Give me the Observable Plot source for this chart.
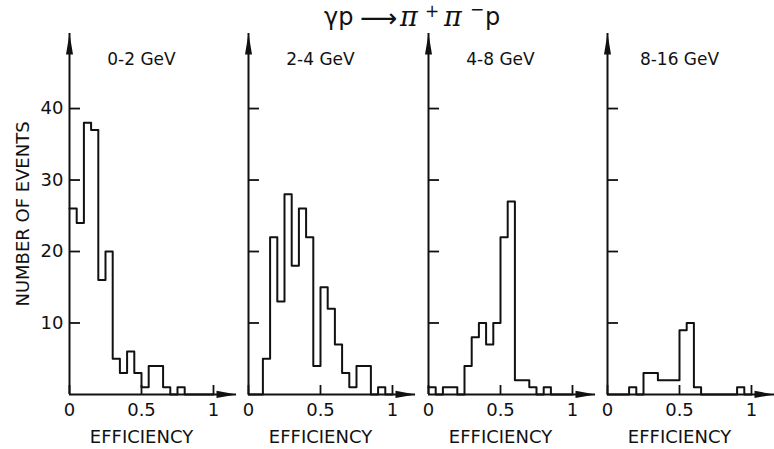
<!DOCTYPE html>
<html><head><meta charset="utf-8">
<script src="https://cdn.jsdelivr.net/npm/d3@7"></script>
<script src="https://cdn.jsdelivr.net/npm/@observablehq/plot@0.6"></script>
<style>
html,body{margin:0;padding:0;background:#fff;}
#wrap{position:relative;width:774px;height:449px;overflow:hidden;font-family:"DejaVu Sans",sans-serif;color:#111;background:#fff;}
#wrap svg{position:absolute;top:0;overflow:visible;background:transparent !important;}
#title span{position:absolute;white-space:nowrap;line-height:1;font-size:24px;}
#title .pi{font-family:"DejaVu Serif",serif;font-style:italic;font-size:27px;}
#title .sup{font-size:17px;}
</style></head><body>
<div id="wrap"><div id="title">
<span style="left:324px;top:5px">γp</span>
<span style="left:360px;top:5px;font-size:26px;letter-spacing:-3px">⟶</span>
<span class="pi" style="left:400px;top:3px">π</span>
<span class="sup" style="left:425px;top:3px">+</span>
<span class="pi" style="left:444px;top:3px">π</span>
<span class="sup" style="left:470px;top:1px">−</span>
<span style="left:485px;top:5px">p</span>
</div></div>
<script>
// bin edges (efficiency), width 0.05
const binEdges = [0,0.05,0.1,0.15,0.2,0.25,0.3,0.35,0.4,0.45,0.5,0.55,0.6,0.65,0.7,0.75,0.8,0.85,0.9,0.95,1.0];
const panelLabels = ["0-2 GeV","2-4 GeV","4-8 GeV","8-16 GeV"];
const counts0to2  = [26,24,38,37,16,20,5,3,6,3,1,4,4,1,0,1,0,0,0,0];
const counts2to4  = [0,0,5,22,13,28,18,26,22,4,15,12,7,3,1,4,4,0,1,0];
const counts4to8  = [1,0,1,1,0,4,8,10,7,10,22,27,2,2,1,0,1,0,0,0];
const counts8to16 = [0,0,0,1,0,3,3,2,2,2,9,10,1,0,0,0,0,0,1,0];
const yTicks = [10,20,30,40];
const xTicks = [0,0.5,1];
const yLabel = "NUMBER OF EVENTS";
const xLabel = "EFFICIENCY";
const xMax = 1.16;   // end of x axis arrow
const yMax = 50.5;   // end of y axis arrow

const allCounts = [counts0to2, counts2to4, counts4to8, counts8to16];
const ink = "#111";
const arrowUp = {draw(ctx){ctx.moveTo(0,0);ctx.lineTo(3.5,21);ctx.lineTo(-3.5,21);ctx.closePath();}};
const arrowRight = {draw(ctx){ctx.moveTo(0,0);ctx.lineTo(-20,-3.6);ctx.lineTo(-20,3.6);ctx.closePath();}};

const axisPos = [69, 248, 428, 607];
const wrap = document.getElementById("wrap");

allCounts.forEach((counts, i) => {
  const first = i === 0;
  const ml = first ? 69 : 10;
  const mr = 8;
  const innerW = xMax * 144;
  const width = ml + innerW + mr;
  const data = binEdges.map((e, k) => ({x: e, y: k < counts.length ? counts[k] : 0}));
  const svg = Plot.plot({
    width, height: 449,
    marginLeft: ml, marginRight: mr, marginTop: 33, marginBottom: 55,
    style: {fontFamily: "DejaVu Sans, sans-serif", fontSize: "18px", color: ink, background: "transparent", overflow: "visible"},
    x: {domain: [0, xMax], axis: null},
    y: {domain: [0, yMax], axis: null},
    marks: [
      Plot.ruleX([0], {stroke: ink, strokeWidth: 2}),
      Plot.ruleY([0], {stroke: ink, strokeWidth: 2}),
      Plot.dot([{x: 0, y: yMax}], {x: "x", y: "y", symbol: arrowUp, fill: ink, stroke: "none"}),
      Plot.dot([{x: xMax, y: 0}], {x: "x", y: "y", symbol: arrowRight, fill: ink, stroke: "none"}),
      Plot.axisY(yTicks, {
        tickSize: -11, tickPadding: 17, strokeWidth: 1.8, stroke: ink,
        tickFormat: first ? (d => String(d)) : (() => ""),
        fontSize: 18,
        label: first ? yLabel : null, labelAnchor: "center", labelOffset: 53, labelArrow: "none"
      }),
      Plot.axisX(xTicks, {
        tickSize: -9, tickPadding: 18, strokeWidth: 1.8, stroke: ink,
        tickFormat: d => String(d), fontSize: 18, label: null
      }),
      Plot.line(data, {x: "x", y: "y", curve: "step-after", stroke: ink, strokeWidth: 2}),
      Plot.text([panelLabels[i]], {x: xTicks[1], frameAnchor: "top", dy: 26, lineAnchor: "middle", fontSize: 17, fill: ink}),
      Plot.text([xLabel], {x: xTicks[1], frameAnchor: "bottom", dy: 43, lineAnchor: "middle", fontSize: 18, fill: ink})
    ]
  });
  svg.style.left = (axisPos[i] - ml) + "px";
  wrap.appendChild(svg);
});
</script>
</body></html>
